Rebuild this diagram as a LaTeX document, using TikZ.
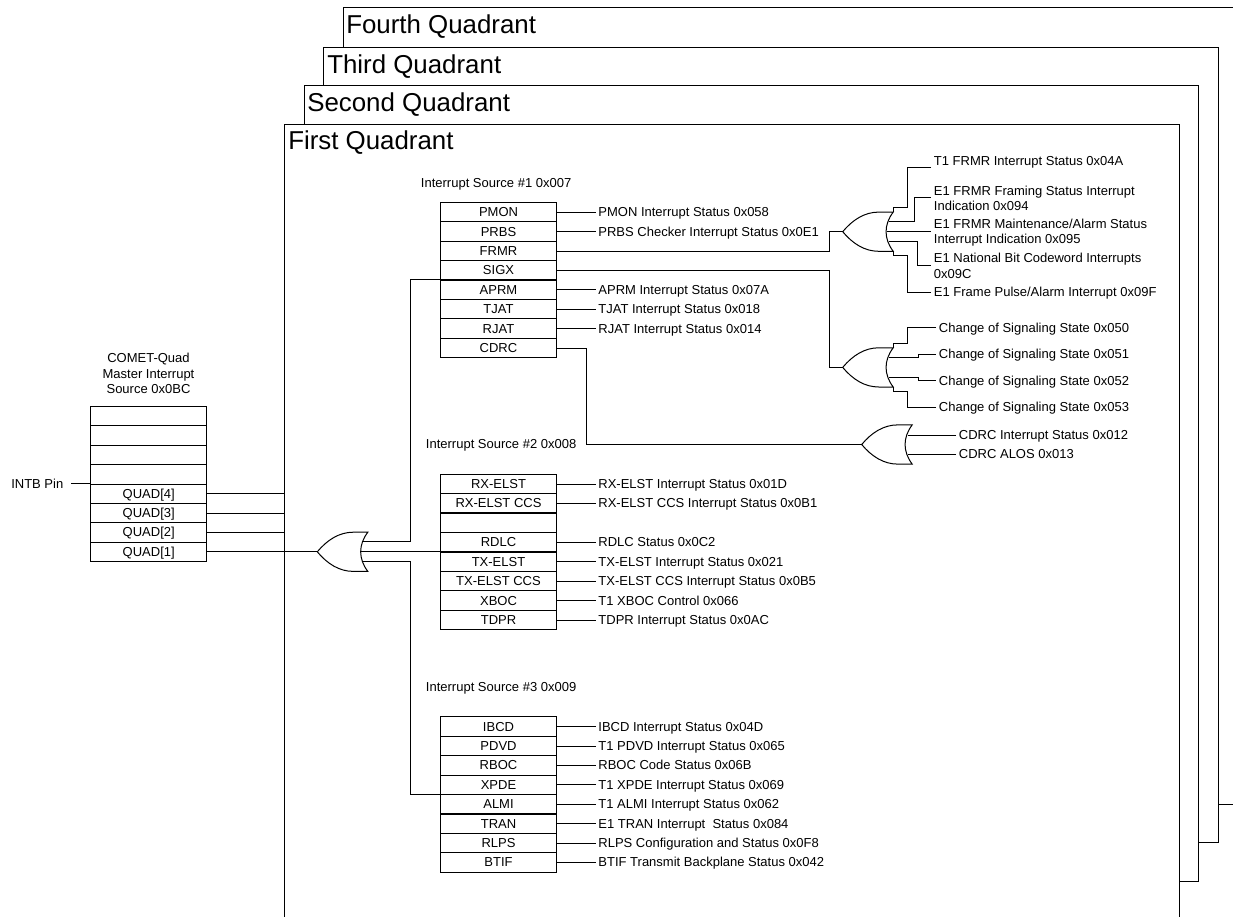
\documentclass[tikz,border=0pt]{standalone}
\usepackage{fontspec}
\setmainfont{Liberation Sans}
\tikzset{
  wire/.style={line width=0.75pt,black,line join=miter},
  cellbox/.style={draw,line width=0.75pt,minimum width=87pt,minimum height=14.55pt,inner sep=0pt,text height=8pt,text depth=1.2pt,font=\fontsize{9.75}{11}\selectfont},
  lbl/.style={anchor=west,inner ysep=0pt,inner xsep=2pt,text height=8pt,text depth=1.2pt,font=\fontsize{9.75}{11}\selectfont},
  lbltwo/.style={anchor=west,inner ysep=0pt,inner xsep=2pt,align=left,font=\fontsize{9.75}{11.5}\selectfont},
  srccaption/.style={anchor=west,inner sep=0pt,text height=8pt,text depth=1.2pt,font=\fontsize{9.75}{11}\selectfont},
  quadtitle/.style={anchor=base west,inner sep=0pt,font=\fontsize{19.4}{21}\selectfont},
  orshape/.style={line width=0.75pt,black}
}
% a table row with its label and connector
\newcommand{\rowc}[4]{%
  \node[cellbox] (#1) at (498.5,#2) {#3};
  \node[lbl] (#1-l) at (595.5,#2) {#4};
  \draw[wire] (#1.east) -- (#1-l.west);
}
\newcommand{\rowonly}[3]{\node[cellbox] (#1) at (498.5,#2) {#3};}
\newcommand{\mrow}[3]{\node[cellbox] (#1) at (148.75,#2) {#3};}
% OR gate: tip at (#2,#3)
\newcommand{\orgate}[3]{%
  \coordinate (#1-tip) at (#2,#3);
  \coordinate (#1-top) at ({#2+50.5},{#3-19.6});
  \coordinate (#1-bot) at ({#2+50.5},{#3+19.6});
  \coordinate (#1-mid) at ({#2+43.8},#3);
  \coordinate (#1-up) at ({#2+46},{#3-10});
  \coordinate (#1-dn) at ({#2+46},{#3+10});
  \draw[orshape] (#1-tip) .. controls ({#2+10},{#3-12}) and ({#2+22},{#3-19.6}) .. ({#2+36},{#3-19.6})
    -- (#1-top) .. controls ({#2+41},{#3-7}) and ({#2+41},{#3+7}) .. (#1-bot)
    -- ({#2+36},{#3+19.6}) .. controls ({#2+22},{#3+19.6}) and ({#2+10},{#3+12}) .. (#1-tip) -- cycle;
}
\begin{document}
\begin{tikzpicture}[x=0.75pt,y=-0.75pt]
\useasboundingbox (0,0) rectangle (1233,917);

% quadrant frames
\draw[wire] (343,47.3) -- (343,8) -- (1233,8);
\draw[wire] (1218,804) -- (1233,804);
\draw[wire] (323.3,86) -- (323.3,47.3) -- (1218,47.3) -- (1218,842.7) -- (1198.7,842.7);
\draw[wire] (304,124.5) -- (304,86) -- (1198.7,86) -- (1198.7,881.7) -- (1179,881.7);
\draw[wire] (284.7,917) -- (284.7,124.5) -- (1179,124.5) -- (1179,917);
\node[quadtitle] (q4t) at (346,34) {Fourth Quadrant};
\node[quadtitle] (q3t) at (327,73.3) {Third Quadrant};
\node[quadtitle] (q2t) at (307,111.3) {Second Quadrant};
\node[quadtitle] (q1t) at (288,149.7) {First Quadrant};

% master table
\node[align=center,inner sep=0pt,font=\fontsize{9.75}{11.8}\selectfont] (mtitle) at (148.5,373.5) {COMET-Quad\\Master Interrupt\\Source 0x0BC};
\mrow{m1}{415.8}{}
\mrow{m2}{435.3}{}
\mrow{m3}{454.8}{}
\mrow{m4}{474.3}{}
\mrow{quad4}{493.7}{QUAD[4]}
\mrow{quad3}{513}{QUAD[3]}
\mrow{quad2}{532.4}{QUAD[2]}
\mrow{quad1}{551.8}{QUAD[1]}
\node[srccaption] (intb) at (11,484) {INTB Pin};
\coordinate (intbend) at (71,484);
\draw[wire] (quad4.north west) -- (quad4.north west -| intbend);
\coordinate (q4e) at (284.7,493.7);
\coordinate (q3e) at (284.7,513);
\coordinate (q2e) at (284.7,532.4);
\draw[wire] (quad4.east) -- (q4e);
\draw[wire] (quad3.east) -- (q3e);
\draw[wire] (quad2.east) -- (q2e);

% table 1
\node[srccaption] (src1) at (420.7,182.7) {Interrupt Source \#1 0x007};
\rowc{pmon}{212}{PMON}{PMON Interrupt Status 0x058}
\rowc{prbs}{231.5}{PRBS}{PRBS Checker Interrupt Status 0x0E1}
\rowonly{frmr}{251}{FRMR}
\rowonly{sigx}{270.3}{SIGX}
\rowc{aprm}{289.6}{APRM}{APRM Interrupt Status 0x07A}
\rowc{tjat}{309}{TJAT}{TJAT Interrupt Status 0x018}
\rowc{rjat}{328.5}{RJAT}{RJAT Interrupt Status 0x014}
\rowonly{cdrc}{348}{CDRC}

% table 2
\node[srccaption] (src2) at (425.7,444.3) {Interrupt Source \#2 0x008};
\rowc{rxelst}{484}{RX-ELST}{RX-ELST Interrupt Status 0x01D}
\rowc{rxccs}{503.2}{RX-ELST CCS}{RX-ELST CCS Interrupt Status 0x0B1}
\rowonly{blank}{522.7}{}
\rowc{rdlc}{542.2}{RDLC}{RDLC Status 0x0C2}
\rowc{txelst}{561.7}{TX-ELST}{TX-ELST Interrupt Status 0x021}
\rowc{txccs}{581.1}{TX-ELST CCS}{TX-ELST CCS Interrupt Status 0x0B5}
\rowc{xboc}{600.6}{XBOC}{T1 XBOC Control 0x066}
\rowc{tdpr}{620}{TDPR}{TDPR Interrupt Status 0x0AC}

% table 3
\node[srccaption] (src3) at (425.7,687.3) {Interrupt Source \#3 0x009};
\rowc{ibcd}{726.5}{IBCD}{IBCD Interrupt Status 0x04D}
\rowc{pdvd}{746}{PDVD}{T1 PDVD Interrupt Status 0x065}
\rowc{rboc}{765.4}{RBOC}{RBOC Code Status 0x06B}
\rowc{xpde}{784.7}{XPDE}{T1 XPDE Interrupt Status 0x069}
\rowc{almi}{804.2}{ALMI}{T1 ALMI Interrupt Status 0x062}
\rowc{tran}{823.7}{TRAN}{E1 TRAN Interrupt\ \ Status 0x084}
\rowc{rlps}{843}{RLPS}{RLPS Configuration and Status 0x0F8}
\rowc{btif}{862.4}{BTIF}{BTIF Transmit Backplane Status 0x042}

% main OR gate
\orgate{g0}{317.3}{551.8}
\draw[wire] (quad1.east) -- (g0-tip);
\draw[wire] (aprm.north west) -- ++(-29.8,0) |- (g0-up);
\draw[wire] (txelst.north west) -- (txelst.north west -| g0-mid);
\draw[wire] (almi.north west) -- ++(-29.8,0) |- (g0-dn);

% FRMR gate
\orgate{g1}{842.7}{231.7}
\draw[wire] (frmr.east) -- (829.3,251) -- (829.3,231.7) -- (g1-tip);
\node[lbl] (f1) at (931,160.7) {T1 FRMR Interrupt Status 0x04A};
\node[lbltwo] (f2) at (931,198.4) {E1 FRMR Framing Status Interrupt\\Indication 0x094};
\node[lbltwo] (f3) at (931,232.6) {E1 FRMR Maintenance/Alarm Status\\Interrupt Indication 0x095};
\node[lbltwo] (f4) at (931,265.9) {E1 National Bit Codeword Interrupts\\0x09C};
\node[lbl] (f5) at (931,292) {E1 Frame Pulse/Alarm Interrupt 0x09F};
\coordinate (f2in) at (931,197.3);
\coordinate (f4in) at (931,265.7);
\draw[wire] (f1.south west) -| (907.3,207.3) -| (g1-top);
\draw[wire] (g1-up) -| (914,197.3) -- (f2in);
\draw[wire] (g1-mid) -- (g1-mid -| f3.west);
\draw[wire] (g1-dn) -| (917.7,265.7) -- (f4in);
\draw[wire] (f5.west) -| (907.3,255.6) -| (g1-bot);

% SIGX gate
\orgate{g2}{842.7}{367.4}
\draw[wire] (sigx.east) -- (829.3,270.3) -- (829.3,367.4) -- (g2-tip);
\node[lbl] (s1) at (936,327.5) {Change of Signaling State 0x050};
\node[lbl] (s2) at (936,354) {Change of Signaling State 0x051};
\node[lbl] (s3) at (936,380.7) {Change of Signaling State 0x052};
\node[lbl] (s4) at (936,407) {Change of Signaling State 0x053};
\draw[wire] (s1.west) -| (907.3,343) -| (g2-top);
\draw[wire] (g2-up) -- (918.3,357.4) |- (s2.west);
\draw[wire] (g2-dn) -- (918.3,377.4) |- (s3.west);
\draw[wire] (s4.west) -| (907.3,391.8) -| (g2-bot);

% CDRC gate
\orgate{g3}{861.7}{444.5}
\draw[wire] (cdrc.east) -- (586,348) -- (586,444.5) -- (g3-tip);
\node[lbl] (c1) at (956,435.3) {CDRC Interrupt Status 0x012};
\node[lbl] (c2) at (956,454.3) {CDRC ALOS 0x013};
\coordinate (c1in) at (908,435.3);
\coordinate (c2in) at (908,454.3);
\draw[wire] (c1.west) -- (c1in);
\draw[wire] (c2.west) -- (c2in);
\end{tikzpicture}
\end{document}
